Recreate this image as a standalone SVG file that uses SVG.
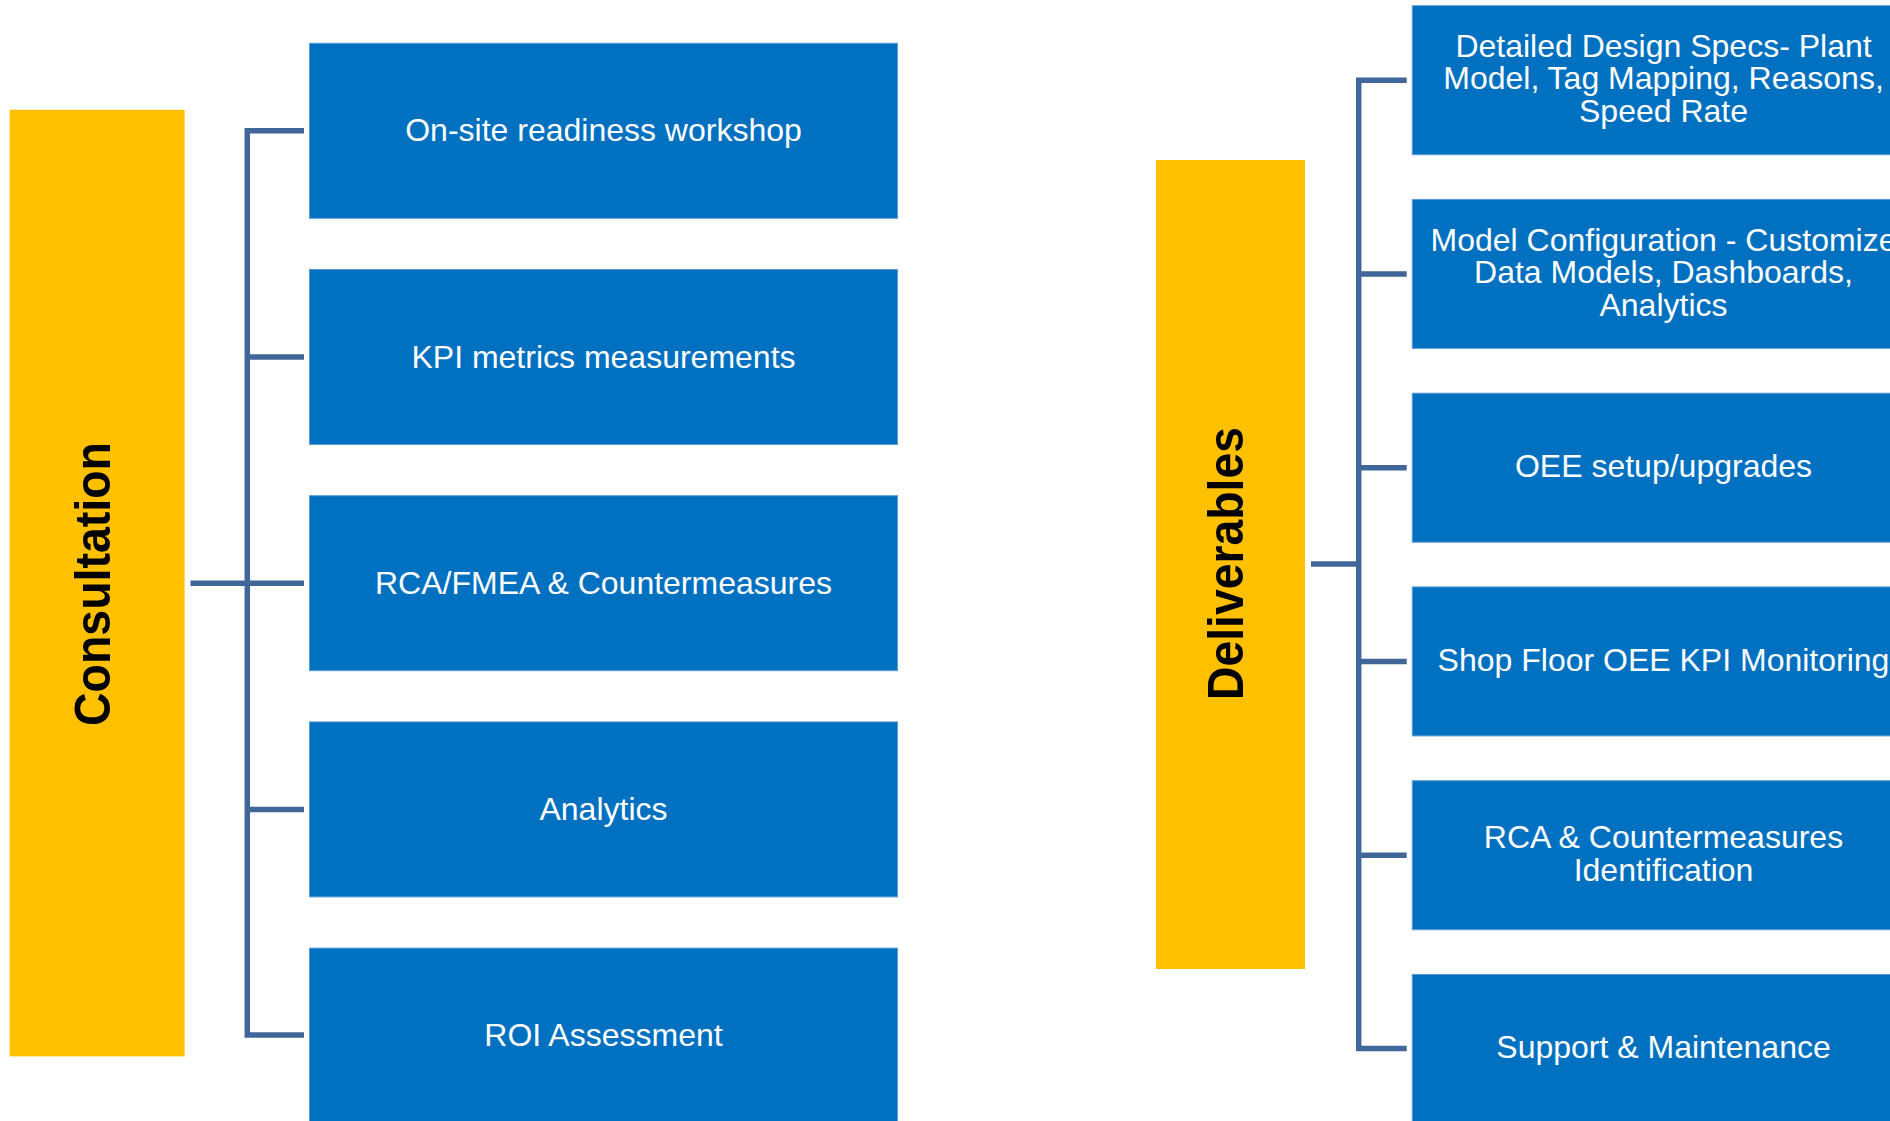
<svg xmlns="http://www.w3.org/2000/svg" width="1890" height="1121" viewBox="0 0 1890 1121">
<style>
.bg{fill:#FFFFFF}
.cat{fill:#FFC000}
.box{fill:#0070C0;stroke:#5B9BD5;stroke-width:1}
.lbl{font-family:"Liberation Sans",Arial,sans-serif;font-size:32px;fill:#FFFFFF;text-anchor:middle}
.title{font-family:"Liberation Sans",Arial,sans-serif;font-size:50px;font-weight:bold;fill:#000000;text-anchor:middle}
.conn{fill:none;stroke:#41679A;stroke-width:5.5;stroke-linejoin:miter}
</style>
<rect class="bg" x="0" y="0" width="1890" height="1121"/>

<g id="connectors">
  <path class="conn" d="M190.5,583.3 H247.3"/>
  <path class="conn" d="M304,130.8 H247.3 V1035 H304"/>
  <path class="conn" d="M247.3,357 H304 M247.3,583.3 H304 M247.3,809.4 H304"/>
  <path class="conn" d="M1311,564 H1358.7"/>
  <path class="conn" d="M1406.7,80.2 H1358.7 V1048.5 H1406.7"/>
  <path class="conn" d="M1358.7,273.9 H1406.7 M1358.7,467.7 H1406.7 M1358.7,661.4 H1406.7 M1358.7,855.2 H1406.7"/>
</g>

<g id="consultation">
  <rect class="cat" x="9.6" y="109.8" width="175" height="946.6"/>
  <text class="title" transform="translate(110,584) rotate(-90)" x="0" y="0" textLength="284" lengthAdjust="spacingAndGlyphs">Consultation</text>
</g>

<g id="onsite">
  <rect class="box" x="309.5" y="43.3" width="588" height="175"/>
  <text class="lbl" x="603.5" y="141.3">On-site readiness workshop</text>
</g>
<g id="kpi">
  <rect class="box" x="309.5" y="269.5" width="588" height="175"/>
  <text class="lbl" x="603.5" y="367.5">KPI metrics measurements</text>
</g>
<g id="rcafmea">
  <rect class="box" x="309.5" y="495.7" width="588" height="175"/>
  <text class="lbl" x="603.5" y="593.7">RCA/FMEA &amp; Countermeasures</text>
</g>
<g id="analytics">
  <rect class="box" x="309.5" y="721.9" width="588" height="175"/>
  <text class="lbl" x="603.5" y="819.9">Analytics</text>
</g>
<g id="roi">
  <rect class="box" x="309.5" y="948.1" width="588" height="175"/>
  <text class="lbl" x="603.5" y="1046">ROI Assessment</text>
</g>

<g id="deliverables">
  <rect class="cat" x="1156" y="160" width="149" height="809"/>
  <text class="title" transform="translate(1243,563.5) rotate(-90)" x="0" y="0" textLength="273" lengthAdjust="spacingAndGlyphs">Deliverables</text>
</g>

<g id="designspecs">
  <rect class="box" x="1412.3" y="5.7" width="500" height="149"/>
  <text class="lbl" x="1663.5" y="56.6">Detailed Design Specs- Plant</text>
  <text class="lbl" x="1663.5" y="89.2">Model, Tag Mapping, Reasons,</text>
  <text class="lbl" x="1663.5" y="121.8">Speed Rate</text>
</g>
<g id="modelconfig">
  <rect class="box" x="1412.3" y="199.4" width="500" height="149"/>
  <text class="lbl" x="1663.5" y="250.6">Model Configuration - Customize</text>
  <text class="lbl" x="1663.5" y="283.2">Data Models, Dashboards,</text>
  <text class="lbl" x="1663.5" y="315.8">Analytics</text>
</g>
<g id="oee">
  <rect class="box" x="1412.3" y="393.2" width="500" height="149"/>
  <text class="lbl" x="1663.5" y="477">OEE setup/upgrades</text>
</g>
<g id="shopfloor">
  <rect class="box" x="1412.3" y="586.9" width="500" height="149"/>
  <text class="lbl" x="1663.5" y="671">Shop Floor OEE KPI Monitoring</text>
</g>
<g id="rcaident">
  <rect class="box" x="1412.3" y="780.7" width="500" height="149"/>
  <text class="lbl" x="1663.5" y="847.5">RCA &amp; Countermeasures</text>
  <text class="lbl" x="1663.5" y="880.5">Identification</text>
</g>
<g id="support">
  <rect class="box" x="1412.3" y="974.4" width="500" height="149"/>
  <text class="lbl" x="1663.5" y="1057.5">Support &amp; Maintenance</text>
</g>
</svg>
